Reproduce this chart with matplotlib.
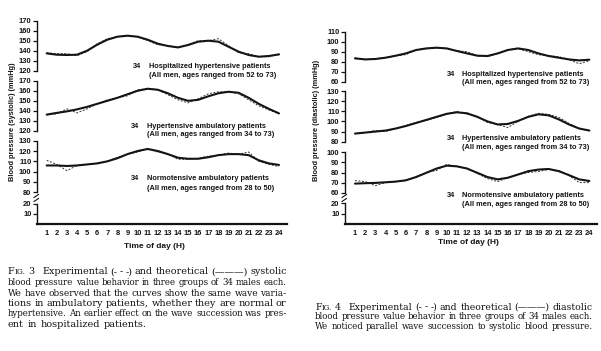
import matplotlib
matplotlib.use("Agg")
import matplotlib.pyplot as plt
from matplotlib.lines import Line2D

# ---------------- data ----------------
hours = list(range(1, 25))
hour_labels = [str(h) for h in hours]

# Fig. 3 systolic (mmHg)
sys_hosp_theo = [137.3, 136, 135.7, 136, 140, 146, 151, 154, 155, 154, 151, 147,
                 144.7, 143.3, 145.7, 149, 150, 149, 144, 139, 135.7, 134, 134.7, 136.3]
sys_hosp_exp = [138, 137, 137, 135, 139, 147, 152, 154, 155, 154, 150, 146,
                145, 143, 146, 150, 150, 152, 145, 138, 137, 134, 134, 137]
sys_amb_theo = [136.3, 138, 139.5, 141.5, 144, 147, 150, 153, 156.5, 160, 162, 161,
                157.5, 153, 150, 151, 154.5, 157.5, 159, 158, 153, 147, 142, 137.5]
sys_amb_exp = [136, 137, 142, 138, 142, 147, 151, 153, 155, 161, 162, 161,
               156, 151, 148, 152, 157, 159, 159, 157, 151, 145, 141, 137]
sys_norm_theo = [106, 106, 105.5, 106, 107, 108, 110, 113, 117, 120, 122, 120,
                 117, 113.5, 112.5, 112.5, 114, 116, 117, 117, 116, 111, 108, 106.5]
sys_norm_exp = [111, 107, 101, 106, 107, 108, 110, 114, 117, 119, 122, 119,
                117, 112, 112, 113, 115, 116, 118, 117, 119, 110, 107, 105]

# Fig. 4 diastolic (mmHg)
dia_hosp_theo = [83.3, 82.3, 82.7, 84, 86, 88.3, 91.7, 93.3, 94, 93.3, 90.7, 88.3,
                 86, 85.7, 88.3, 91.7, 93.3, 91.7, 88.3, 85.7, 84, 82.3, 81.3, 82]
dia_hosp_exp = [84, 82, 83, 84, 86, 87, 92, 93, 94, 93, 91, 90,
                86, 85, 88, 92, 93, 90, 87, 86, 85, 82, 78, 81]
dia_amb_theo = [88, 89, 90, 91, 93, 95.5, 98.5, 101.5, 104.5, 107.5, 109, 108,
                104.5, 100, 97, 97.5, 100.5, 104.5, 107, 106, 102, 97, 93, 91]
dia_amb_exp = [88, 89, 91, 90, 93, 96, 99, 101, 104, 107, 110, 107,
               105, 99, 97, 94, 100, 105, 108, 107, 104, 98, 93, 91]
dia_norm_theo = [69, 69.4, 69.7, 70.3, 71, 72.3, 75.5, 79.7, 83.9, 86.8, 86.1, 83.9,
                 79.7, 75.5, 73.2, 74.8, 78, 81.3, 82.9, 83.5, 81.3, 77.4, 73.2, 71.6]
dia_norm_exp = [72, 71, 67, 70, 71, 72, 76, 80, 82, 88, 86, 84,
                79, 74, 71, 75, 78, 80, 81, 83, 82, 77, 70, 70]

group_counts = ["34", "34", "34"]
group_names = ["Hospitalized hypertensive patients",
               "Hypertensive ambulatory patients",
               "Normotensive ambulatory patients"]
group_ages = ["(All men, ages ranged from 52 to 73)",
              "(All men, ages ranged from 34 to 73)",
              "(All men, ages ranged from 28 to 50)"]

caption3 = ["Fig. 3   Experimental (- - -) and theoretical (———) systolic",
            "blood pressure value behavior in three groups of 34 males each.",
            "We have observed that the curves show the same wave varia-",
            "tions in ambulatory patients, whether they are normal or",
            "hypertensive. An earlier effect on the wave succession was pres-",
            "ent in hospitalized patients."]
caption4 = ["Fig. 4   Experimental (- - -) and theoretical (———) diastolic",
            "blood pressure value behavior in three groups of 34 males each.",
            "We noticed parallel wave succession to systolic blood pressure."]

# ---------------- figure ----------------
W, H = 601, 351
fig = plt.figure(figsize=(W / 100, H / 100), dpi=100)
fig.patch.set_facecolor("white")
INK = "#141414"
SANS = "Liberation Sans"
SERIF = "DejaVu Serif"


def fx(x):
    return x / W


def fy(y):
    return 1 - y / H


def add_band(x0, x1, ytop, ybot, vtop, vbot, xlim, ticks, bottom=False):
    ax = fig.add_axes([fx(x0), fy(ybot), (x1 - x0) / W, (ybot - ytop) / H])
    ax.set_facecolor("none")
    ax.set_xlim(*xlim)
    ax.set_ylim(vbot, vtop)
    for s in ["top", "right"]:
        ax.spines[s].set_visible(False)
    ax.spines["left"].set_linewidth(1.0)
    ax.spines["left"].set_color(INK)
    ax.set_yticks(ticks)
    ax.set_yticklabels([str(t) for t in ticks], fontsize=5.4, fontweight="bold",
                       family=SANS, color=INK)
    ax.tick_params(axis="y", length=3, width=0.9, pad=1, color=INK)
    if bottom:
        ax.spines["bottom"].set_linewidth(1.6)
        ax.spines["bottom"].set_color(INK)
        ax.set_xticks(hours)
        ax.set_xticklabels(hour_labels, fontsize=5.4, fontweight="bold",
                           family=SANS, color=INK)
        ax.tick_params(axis="x", length=0, pad=4)
    else:
        ax.spines["bottom"].set_visible(False)
        ax.set_xticks([])
    return ax


def draw_series(ax, theo, exp):
    ax.plot(hours, exp, color="#333333", lw=0.7, ls=(0, (2, 1.6)), clip_on=False)
    ax.plot(hours, theo, color=INK, lw=1.5, clip_on=False, solid_capstyle="round")


def break_mark(xpx, ypx):
    for dy in (-2.0, 2.0):
        fig.add_artist(Line2D([fx(xpx - 3), fx(xpx + 1.5)],
                              [fy(ypx + dy + 1.5), fy(ypx + dy - 1.5)],
                              color=INK, lw=0.8))


def group_label(x34, xtxt, y1, y2, i):
    kw = dict(fontsize=5.35, fontweight="bold", family=SANS, color=INK, va="center")
    fig.text(fx(x34), fy(y1), group_counts[i], **kw)
    fig.text(fx(xtxt), fy(y1), group_names[i], **kw)
    fig.text(fx(xtxt), fy(y2), group_ages[i], **kw)


# ----- left panel (systolic) -----
LX0, LX1 = 37, 287
lxlim = (1 - (46.7 - LX0) / 10.1, 1 + (LX1 - 46.7) / 10.1)
a1 = add_band(LX0, LX1, 20.7, 70.7, 170, 120, lxlim, [120, 130, 140, 150, 160, 170])
a2 = add_band(LX0, LX1, 80.7, 131, 170, 120, lxlim, [120, 130, 140, 150, 160, 170])
a3 = add_band(LX0, LX1, 140.7, 192.3, 130, 80, lxlim, [80, 90, 100, 110, 120, 130])
a4 = add_band(LX0, LX1, 203.7, 224, 20, 0, lxlim, [10, 20], bottom=True)
draw_series(a1, sys_hosp_theo, sys_hosp_exp)
draw_series(a2, sys_amb_theo, sys_amb_exp)
draw_series(a3, sys_norm_theo, sys_norm_exp)
break_mark(LX0, 198)
group_label(133, 149, 66.5, 75.5, 0)
group_label(131, 147, 126.5, 135, 1)
group_label(131, 147, 179, 188, 2)
fig.text(fx(154), fy(246), "Time of day (H)", fontsize=6.0, fontweight="bold",
         family=SANS, color=INK, ha="center", va="center")
fig.text(fx(12.5), fy(122), "Blood pressure (systolic) (mmHg)", fontsize=5.3,
         fontweight="bold", family=SANS, color=INK, rotation=90,
         ha="center", va="center")

# ----- right panel (diastolic) -----
RX0, RX1 = 345, 597
rxlim = (1 - (355 - RX0) / 10.19, 1 + (RX1 - 355) / 10.19)
b1 = add_band(RX0, RX1, 31.7, 81.7, 110, 60, rxlim, [60, 70, 80, 90, 100, 110])
b2 = add_band(RX0, RX1, 91, 141.7, 130, 80, rxlim, [80, 90, 100, 110, 120, 130])
b3 = add_band(RX0, RX1, 152.3, 192.7, 100, 60, rxlim, [60, 70, 80, 90, 100])
b4 = add_band(RX0, RX1, 203.3, 224, 20, 0, rxlim, [10, 20], bottom=True)
draw_series(b1, dia_hosp_theo, dia_hosp_exp)
draw_series(b2, dia_amb_theo, dia_amb_exp)
draw_series(b3, dia_norm_theo, dia_norm_exp)
break_mark(RX0, 198)
group_label(446.5, 462, 74, 83, 0)
group_label(446.5, 462, 139, 147.5, 1)
group_label(446.5, 462, 195.5, 204.5, 2)
fig.text(fx(468), fy(243), "Time of day (H)", fontsize=6.0, fontweight="bold",
         family=SANS, color=INK, ha="center", va="center")
fig.text(fx(316), fy(120), "Blood pressure (diastolic) (mmHg)", fontsize=5.3,
         fontweight="bold", family=SANS, color=INK, rotation=90,
         ha="center", va="center")

# ----- captions (justified) -----
renderer = fig.canvas.get_renderer()


def text_width(s, size):
    t = fig.text(0, 0, s, fontsize=size, family=SERIF)
    w = t.get_window_extent(renderer).width
    t.remove()
    return w


def token_pieces(tok, size):
    if tok == "Fig.":
        return [("F", size), ("IG.", size * 0.76)]
    return [(tok, size)]


def layout_line(toks, size):
    widths = [sum(text_width(p, s) + 0.4 for p, s in token_pieces(tk, size))
              for tk in toks]
    return widths


def draw_caption(lines, x0, x1, ybase0, dy, size0, justify_last):
    for i, line in enumerate(lines):
        toks = line.split()
        extra = [0.0] * len(toks)
        if toks[0] == "Fig.":
            extra[1] = 5.0  # wider gap after figure number
        last = (i == len(lines) - 1)
        size = size0
        while True:
            widths = layout_line(toks, size)
            space = text_width("a a", size) - text_width("aa", size)
            gap = (x1 - x0 - sum(widths) - sum(extra)) / max(len(toks) - 1, 1)
            if (last and not justify_last) or gap >= 0.7 * space or size < 5:
                break
            size -= 0.05
        if last and not justify_last:
            gap = space
        x = x0
        y = ybase0 + i * dy
        for k, tk in enumerate(toks):
            xx = x
            for p, s in token_pieces(tk, size):
                fig.text(fx(xx), fy(y), p, fontsize=s, family=SERIF, color=INK,
                         va="baseline", ha="left")
                xx += text_width(p, s) + 0.4
            x += widths[k] + gap + extra[k]


draw_caption(caption3, 8, 287, 274.5, 10.5, 7.0, False)
draw_caption(caption4, 315, 593, 309.5, 9.8, 7.0, True)

fig.savefig("out.png", dpi=100, facecolor="white")
